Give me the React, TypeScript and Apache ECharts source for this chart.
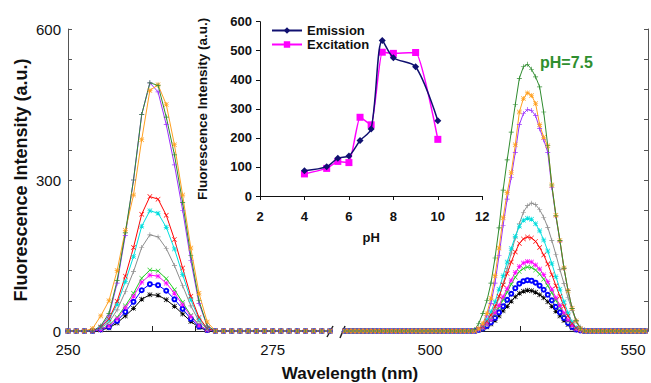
import React, { useEffect, useRef } from "react";
import * as echarts from "echarts";

// ---------- main chart data ----------
const excWl = [250, 251, 252, 253, 254, 255, 256, 257, 258, 259, 260, 261, 262, 263, 264, 265, 266, 267, 268, 269, 270, 271, 272, 273, 274, 275, 276, 277, 278, 279, 280, 281, 282];
const emWl = [479, 480, 481, 482, 483, 484, 485, 486, 487, 488, 489, 490, 491, 492, 493, 494, 495, 496, 497, 498, 499, 500, 501, 502, 503, 504, 505, 506, 507, 508, 509, 510, 511, 512, 513, 514, 515, 516, 517, 518, 519, 520, 521, 522, 523, 524, 525, 526, 527, 528, 529, 530, 531, 532, 533, 534, 535, 536, 537, 538, 539, 540, 541, 542, 543, 544, 545, 546, 547, 548, 549, 550, 551, 552, 553];

// baseline readings (all zero) outside the peaks
const excHead = [0, 0, 0]; // 250-252
const excTail = [0, 0, 0, 0, 0, 0, 0, 0, 0, 0, 0, 0, 0, 0, 0]; // 268-282
const emHead = [0, 0, 0, 0, 0, 0, 0, 0, 0, 0, 0, 0, 0, 0, 0, 0, 0, 0, 0, 0, 0, 0, 0, 0, 0, 0, 0, 0, 0, 0, 0, 0]; // 479-510
const emTail = [0, 0, 0, 0, 0, 0, 0, 0, 0, 0, 0, 0, 0, 0, 0]; // 539-553

// excitation peak window 253..267
const excPH75 = [0, 10, 35, 100, 195, 300, 430, 493, 488, 425, 350, 255, 150, 60, 10];
const excPH8 = [5, 30, 60, 120, 200, 270, 380, 478, 489, 450, 370, 270, 165, 75, 18];
const excPH9 = [0, 8, 30, 95, 190, 300, 430, 493, 475, 410, 330, 240, 140, 55, 10];
const excPH65 = [0, 8, 24, 59, 109, 166, 232, 267, 262, 230, 182, 125, 69, 27, 5];
const excPH7 = [0, 7, 22, 53, 98, 148, 208, 239, 234, 206, 163, 112, 62, 24, 5];
const excPH10 = [0, 6, 17, 42, 78, 118, 166, 191, 187, 164, 130, 90, 50, 19, 4];
const excPH55 = [0, 4, 11, 27, 50, 75, 105, 121, 119, 104, 82, 57, 31, 12, 2];
const excPH6 = [0, 3, 10, 24, 46, 69, 97, 111, 109, 95, 75, 52, 29, 11, 2];
const excPH5 = [0, 3, 8, 20, 38, 58, 81, 93, 91, 80, 63, 44, 24, 9, 2];
const excPH4 = [0, 2, 6, 16, 30, 45, 63, 72, 71, 62, 49, 34, 19, 7, 1];

// emission peak window 511..538
const emPH75 = [3, 15, 35, 60, 95, 145, 205, 280, 340, 395, 450, 502, 525, 530, 520, 505, 485, 435, 368, 290, 230, 180, 125, 80, 45, 20, 5, 0];
const emPH8 = [0, 5, 15, 35, 65, 110, 165, 225, 275, 315, 370, 435, 462, 473, 468, 452, 410, 385, 368, 290, 230, 180, 125, 80, 45, 20, 5, 0];
const emPH9 = [0, 4, 12, 30, 55, 95, 150, 210, 262, 305, 355, 410, 432, 440, 438, 428, 402, 380, 355, 285, 228, 178, 124, 80, 45, 20, 5, 0];
const emPH10 = [0, 2, 5, 13, 25, 43, 66, 94, 124, 155, 185, 213, 236, 249, 254, 251, 241, 226, 206, 180, 152, 122, 94, 66, 41, 20, 8, 3];
const emPH7 = [0, 4, 11, 22, 38, 58, 83, 110, 137, 164, 188, 208, 220, 224, 222, 213, 199, 181, 159, 134, 108, 83, 58, 36, 18, 7, 2, 0];
const emPH65 = [0, 4, 9, 19, 32, 49, 69, 92, 114, 137, 157, 174, 183, 187, 185, 178, 166, 151, 133, 112, 90, 69, 49, 30, 15, 6, 2, 0];
const emPH6 = [0, 3, 7, 14, 23, 36, 51, 68, 84, 101, 116, 128, 135, 138, 137, 131, 123, 112, 98, 83, 66, 51, 36, 22, 11, 4, 1, 0];
const emPH55 = [0, 3, 6, 13, 22, 33, 47, 62, 77, 93, 107, 118, 124, 127, 126, 121, 113, 103, 90, 76, 61, 47, 33, 20, 10, 4, 1, 0];
const emPH5 = [0, 2, 5, 10, 17, 26, 37, 49, 62, 74, 85, 94, 99, 101, 100, 96, 90, 82, 72, 61, 48, 37, 26, 16, 8, 3, 1, 0];
const emPH4 = [0, 2, 4, 8, 14, 21, 30, 40, 49, 59, 68, 75, 79, 81, 80, 77, 72, 66, 58, 49, 39, 30, 21, 13, 6, 2, 1, 0];

// tick labels
const leftLabels = [250, 275];
const rightLabels = [500, 550];

// ---------- inset data ----------
const insetPH = [4, 5, 5.5, 6, 6.5, 7, 7.5, 8, 9, 10];
const insetEmission = [87, 101, 130, 138, 191, 231, 535, 476, 445, 259];
const insetExcitation = [76, 95, 119, 115, 271, 245, 495, 491, 494, 195];

const PLUS = "path://M3.5,0H4.5V8H3.5Z M0,3.5H8V4.5H0Z";
const CROSS = "path://M0.7,0L8,7.3L7.3,8L0,0.7Z M7.3,0L8,0.7L0.7,8L0,7.3Z";
const STAR = "path://M3.5,0H4.5V8H3.5Z M0,3.5H8V4.5H0Z M0.7,0L8,7.3L7.3,8L0,0.7Z M7.3,0L8,0.7L0.7,8L0,7.3Z";

const FONT = "'Liberation Sans', Arial, sans-serif";

const curves = [
  { name: "pH 4", color: "#000000", symbol: STAR, exc: excPH4, em: emPH4 },
  { name: "pH 5", color: "#0000ff", symbol: "emptyCircle", exc: excPH5, em: emPH5 },
  { name: "pH 5.5", color: "#22cc22", symbol: CROSS, exc: excPH55, em: emPH55 },
  { name: "pH 6", color: "#ff00ff", symbol: STAR, exc: excPH6, em: emPH6 },
  { name: "pH 10", color: "#8c8c8c", symbol: PLUS, exc: excPH10, em: emPH10 },
  { name: "pH 7", color: "#00dede", symbol: STAR, exc: excPH7, em: emPH7 },
  { name: "pH 6.5", color: "#ff0000", symbol: CROSS, exc: excPH65, em: emPH65 },
  { name: "pH 9", color: "#9b30ff", symbol: PLUS, exc: excPH9, em: emPH9 },
  { name: "pH 8", color: "#ffa020", symbol: STAR, exc: excPH8, em: emPH8 },
  { name: "pH 7.5", color: "#2e8b2e", symbol: PLUS, exc: excPH75, em: emPH75 },
];

function zip(xs: number[], ys: number[]) {
  return xs.map((x, i) => [x, ys[i]]);
}

export default function App() {
  const ref = useRef<HTMLDivElement>(null);
  useEffect(() => {
    if (!ref.current) return;
    const chart = echarts.init(ref.current, undefined, { renderer: "svg" });
    const series: any[] = [];
    curves.forEach((c) => {
      const common = {
        type: "line",
        name: c.name,
        symbol: c.symbol,
        symbolSize: c.symbol === "emptyCircle" ? 4 : 5,
        lineStyle: { color: c.color, width: 1 },
        itemStyle: { color: c.color, borderColor: c.color, borderWidth: c.symbol === "emptyCircle" ? 0.8 : 0 },
        silent: true,
        z: 2,
      };
      series.push({
        ...common,
        xAxisIndex: 0,
        yAxisIndex: 0,
        data: zip(excWl, [...excHead, ...c.exc, ...excTail]),
      });
      series.push({
        ...common,
        xAxisIndex: 1,
        yAxisIndex: 1,
        data: zip(emWl, [...emHead, ...c.em, ...emTail]),
      });
    });
    series.push({
      type: "line",
      name: "Emission",
      xAxisIndex: 2,
      yAxisIndex: 2,
      data: zip(insetPH, insetEmission),
      smooth: 0.3,
      symbol: "diamond",
      symbolSize: 7,
      lineStyle: { color: "#101070", width: 1.5 },
      itemStyle: { color: "#101070" },
      z: 6,
    });
    series.push({
      type: "line",
      name: "Excitation",
      xAxisIndex: 2,
      yAxisIndex: 2,
      data: zip(insetPH, insetExcitation),
      smooth: 0.15,
      symbol: "rect",
      symbolSize: 7,
      lineStyle: { color: "#ff00ff", width: 1.5 },
      itemStyle: { color: "#ff00ff" },
      z: 5,
    });

    const mainLabel = { fontSize: 15, color: "#111", fontFamily: FONT };
    const insetLabel = { fontSize: 13, fontWeight: "bold", color: "#111", fontFamily: FONT };

    chart.setOption({
      animation: false,
      backgroundColor: "#ffffff",
      grid: [
        { left: 68, top: 29, width: 262, height: 302 },
        { left: 342, top: 29, width: 306, height: 302 },
        { left: 260, top: 21.7, width: 222.3, height: 174.3 },
      ],
      legend: {
        data: ["Emission", "Excitation"],
        orient: "vertical",
        left: 266,
        top: 19,
        itemWidth: 30,
        itemHeight: 8,
        itemGap: 1,
        textStyle: { fontSize: 13, fontWeight: "bold", color: "#111", fontFamily: FONT },
      },
      xAxis: [
        {
          gridIndex: 0,
          type: "value",
          min: 250,
          max: 282,
          axisLine: { show: true, onZero: false, lineStyle: { color: "#222", width: 1 } },
          axisTick: { show: true, inside: true, length: 5, customValues: [260.3, 265.6], lineStyle: { color: "#222" } },
          axisLabel: { ...mainLabel, customValues: leftLabels, margin: 11 },
          splitLine: { show: false },
        },
        {
          gridIndex: 1,
          type: "value",
          min: 478.3,
          max: 553.7,
          axisLine: { show: true, onZero: false, lineStyle: { color: "#222", width: 1 } },
          axisTick: { show: true, inside: true, length: 5, customValues: [522.2], lineStyle: { color: "#222" } },
          axisLabel: { ...mainLabel, customValues: rightLabels, margin: 11 },
          splitLine: { show: false },
        },
        {
          gridIndex: 2,
          type: "value",
          min: 2,
          max: 12,
          interval: 2,
          name: "pH",
          nameLocation: "middle",
          nameGap: 35,
          nameTextStyle: { ...insetLabel },
          axisLine: { show: true, onZero: false, lineStyle: { color: "#111", width: 1 } },
          axisTick: { show: true, inside: false, length: 4, lineStyle: { color: "#111" } },
          axisLabel: { ...insetLabel, margin: 14 },
          splitLine: { show: false },
        },
      ],
      yAxis: [
        {
          gridIndex: 0,
          type: "value",
          min: 0,
          max: 600,
          interval: 60,
          name: "Fluorescence Intensity (a.u.)",
          nameLocation: "middle",
          nameGap: 38,
          nameTextStyle: { fontSize: 18, fontWeight: "bold", color: "#111", fontFamily: FONT },
          axisLine: { show: true, lineStyle: { color: "#555", width: 1 } },
          axisTick: { show: true, inside: true, length: 4, lineStyle: { color: "#555" } },
          axisLabel: {
            ...mainLabel,
            margin: 7,
            formatter: (v: number) => (v % 300 === 0 ? String(v) : ""),
          },
          splitLine: { show: false },
        },
        {
          gridIndex: 1,
          type: "value",
          position: "right",
          min: 0,
          max: 600,
          interval: 60,
          axisLine: { show: true, lineStyle: { color: "#555", width: 1 } },
          axisTick: { show: true, inside: true, length: 4, lineStyle: { color: "#555" } },
          axisLabel: { show: false },
          splitLine: { show: false },
        },
        {
          gridIndex: 2,
          type: "value",
          min: 0,
          max: 600,
          interval: 100,
          name: "Fluorescence Intensity (a.u.)",
          nameLocation: "middle",
          nameGap: 51,
          nameTextStyle: { ...insetLabel, fontSize: 13.5 },
          axisLine: { show: true, lineStyle: { color: "#111", width: 1 } },
          axisTick: { show: true, inside: false, length: 4, lineStyle: { color: "#111" } },
          axisLabel: { ...insetLabel, margin: 8 },
          splitLine: { show: false },
        },
      ],
      graphic: [
        {
          type: "text",
          x: 350,
          y: 373,
          style: {
            text: "Wavelength (nm)",
            fontSize: 17,
            fontWeight: "bold",
            fontFamily: FONT,
            fill: "#111",
            align: "center",
            verticalAlign: "middle",
          },
        },
        {
          type: "text",
          x: 540,
          y: 62,
          style: {
            text: "pH=7.5",
            fontSize: 16,
            fontWeight: "bold",
            fontFamily: FONT,
            fill: "#2f8f2f",
            align: "left",
            verticalAlign: "middle",
          },
        },
        {
          type: "line",
          shape: { x1: 327, y1: 337, x2: 333, y2: 326 },
          style: { stroke: "#222", lineWidth: 1.5 },
        },
        {
          type: "line",
          shape: { x1: 340, y1: 338, x2: 345, y2: 326 },
          style: { stroke: "#222", lineWidth: 1.5 },
        },
      ],
      series,
    });
    return () => chart.dispose();
  }, []);
  return (
    <div
      ref={ref}
      style={{ position: "fixed", left: 0, top: 0, width: 651, height: 383, background: "#fff" }}
    />
  );
}
